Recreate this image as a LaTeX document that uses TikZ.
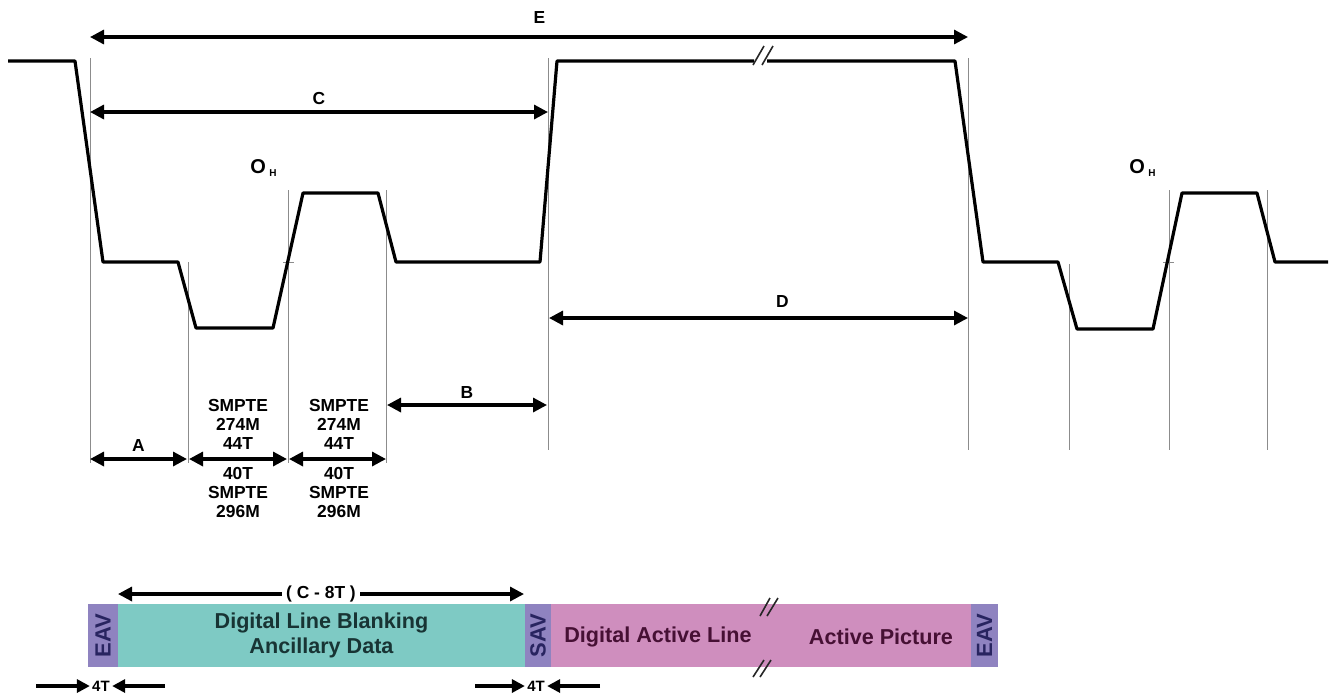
\documentclass[tikz,border=0pt]{standalone}
\usepackage{fontspec}
\setmainfont{Liberation Sans}
\usetikzlibrary{arrows.meta, positioning}
\definecolor{eavc}{RGB}{143,131,192}
\definecolor{blankc}{RGB}{126,202,196}
\definecolor{activec}{RGB}{207,142,190}
\definecolor{blanktxt}{RGB}{24,52,52}
\definecolor{acttxt}{RGB}{70,16,52}
\definecolor{eavtxt}{RGB}{40,36,96}

\begin{document}
\begin{tikzpicture}[x=0.5pt, y=-0.5pt,
  sig/.style={line width=1.6pt, line join=round},
  guide/.style={black!45, line width=0.5pt},
  brk/.style={line width=0.8pt, black!85},
  dim/.style={{Triangle[length=7pt,width=7pt]}-{Triangle[length=7pt,width=7pt]}, line width=1.6pt},
  one/.style={-{Triangle[length=6.5pt,width=6.5pt]}, line width=1.6pt},
  lbl/.style={font=\bfseries\fontsize{8.7}{9.5}\selectfont, inner sep=1pt},
  std/.style={lbl, align=center},
  seg/.style={draw=none, minimum height=31.5pt, inner sep=0pt, outer sep=0pt},
  bar/.style={font=\bfseries\fontsize{10.8}{12.5}\selectfont, align=center},
  rot/.style={font=\bfseries\fontsize{11}{12}\selectfont, text=eavtxt}
]
\useasboundingbox (0,0) rectangle (1334,693);

% thin guide lines
\foreach \x/\ya/\yb in {90/58/463, 188/262/463, 288/190/463, 386/190/463,
    548/58/450, 968/58/450, 1069/264/450, 1169/190/450, 1267/190/450}
  \draw[guide] (\x,\ya) -- (\x,\yb);
\draw[guide] (283,262) -- (294,262);
\draw[guide] (1163,262) -- (1174,262);

% the line signal
\draw[sig] (8,61) -- (75,61) -- (103,262) -- (178,262) -- (196,328) -- (273,328)
  -- (303,193) -- (378,193) -- (396,262) -- (540,262) -- (557,61) -- (754,61)
  (767,61) -- (955,61) -- (983,262) -- (1058,262) -- (1077,329) -- (1153,329)
  -- (1182,193) -- (1257,193) -- (1275,262) -- (1328,262);
\draw[brk] (753,65) -- (764,46) (762,65) -- (773,46);

\node[lbl, font=\bfseries\fontsize{10}{11}\selectfont] (oh1) at (264,168) {O\,\textsubscript{\tiny H}};
\node[lbl, font=\bfseries\fontsize{10}{11}\selectfont] (oh2) at (1143,168) {O\,\textsubscript{\tiny H}};

% dimensions
\coordinate (e1) at (90,37);   \coordinate (e2) at (968,37);
\coordinate (c1) at (90,112);  \coordinate (c2) at (548,112);
\coordinate (d1) at (549,318); \coordinate (d2) at (968,318);
\coordinate (b1) at (387,405); \coordinate (b2) at (547,405);
\coordinate (a1) at (90,459);  \coordinate (a2) at (187,459);
\coordinate (s1) at (189,459); \coordinate (s2) at (287,459);
\coordinate (s3) at (289,459); \coordinate (s4) at (386,459);

\draw[dim] (e1) -- node[lbl, above=5pt, pos=0.512] (lE) {E} (e2);
\draw[dim] (c1) -- node[lbl, above=2pt] (lC) {C} (c2);
\draw[dim] (d1) -- node[lbl, above=3.5pt, pos=0.557] (lD) {D} (d2);
\draw[dim] (b1) -- node[lbl, above=1.5pt] (lB) {B} (b2);
\draw[dim] (a1) -- node[lbl, above=2pt] (lA) {A} (a2);
\draw[dim] (s1) -- (s2);
\draw[dim] (s3) -- (s4);

\node[std, anchor=south] (up1) at (238,452) {SMPTE\\274M\\44T};
\node[std, anchor=north] (lo1) at (238,465) {40T\\SMPTE\\296M};
\node[std, anchor=south] (up2) at (339,452) {SMPTE\\274M\\44T};
\node[std, anchor=north] (lo2) at (339,465) {40T\\SMPTE\\296M};

% digital line
\node[seg, fill=eavc, minimum width=15pt, anchor=north west, rot] (eav1) at (88,604) {\rotatebox{90}{EAV}};
\node[seg, fill=blankc, minimum width=203.5pt, right=0pt of eav1, bar, text=blanktxt] (blank)
  {Digital Line Blanking\\Ancillary Data};
\node[seg, fill=eavc, minimum width=13pt, right=0pt of blank, rot] (sav) {\rotatebox{90}{SAV}};
\node[seg, fill=activec, minimum width=210pt, right=0pt of sav] (act) {};
\node[seg, fill=eavc, minimum width=13.5pt, right=0pt of act, rot] (eav2) {\rotatebox{90}{EAV}};
\node[bar, text=acttxt] (dal) at (658,637) {Digital Active Line};
\node[bar, text=acttxt] (pic) at (881,637) {Active Picture};
\draw[brk] (760,616) -- (770,598) (767,616) -- (778,598);
\draw[brk] (753,677) -- (764,660) (760,677) -- (771,660);

\coordinate (k1) at (118,594); \coordinate (k2) at (524,594);
\draw[dim] (k1) -- node[lbl, fill=white, inner xsep=2pt] (lk) {( C - 8T )} (k2);

\node[lbl, font=\bfseries\fontsize{7.5}{8}\selectfont] (t1) at (101,686) {4T};
\coordinate (t1a) at (36,686);  \coordinate (t1b) at (165,686);
\draw[one] (t1a) -- (t1.west);
\draw[one] (t1b) -- (t1.east);
\node[lbl, font=\bfseries\fontsize{7.5}{8}\selectfont] (t2) at (536,686) {4T};
\coordinate (t2a) at (475,686); \coordinate (t2b) at (600,686);
\draw[one] (t2a) -- (t2.west);
\draw[one] (t2b) -- (t2.east);
\end{tikzpicture}
\end{document}
